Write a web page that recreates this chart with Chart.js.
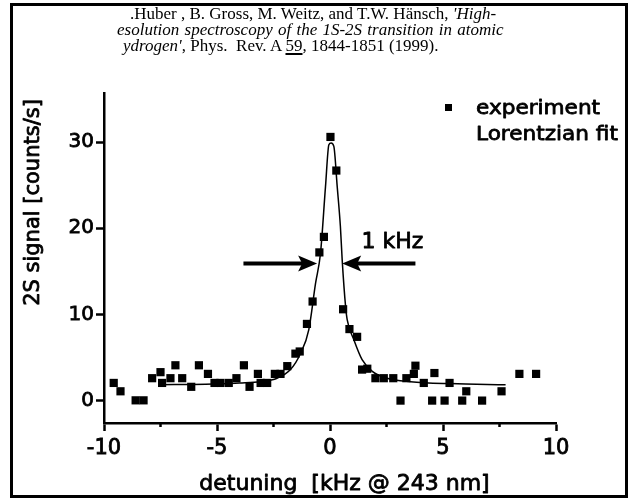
<!DOCTYPE html>
<html lang="en">
<head>
    <meta charset="UTF-8">
    <title>1S-2S spectrum</title>
    <script src="https://cdn.jsdelivr.net/npm/chart.js"></script>
    <style>
        body { margin: 0; background: #fff; }
        #wrap { position: relative; width: 632px; height: 498px; background: #fff; overflow: hidden; }
        #spectrum { position: absolute; left: 0; top: 0; }
        .frame { position: absolute; left: 10px; top: 3px; width: 618px; height: 495px; box-sizing: border-box; border: 3px solid #000; pointer-events: none; }
        .ref { position: absolute; font: 17px "Liberation Serif", "Times New Roman", serif; line-height: 16px; white-space: pre; color: #000; }
        .ref u { text-decoration-thickness: 2px; text-underline-offset: 2px; }
    </style>
</head>
<body>
<div id="wrap">
    <canvas id="spectrum" width="632" height="498"></canvas>
    <div class="frame"></div>
    <div class="ref" style="left:130px; top:6px">.Huber , B. Gross, M. Weitz, and T.W. Hänsch, <i>'High-</i></div>
    <div class="ref" style="left:117px; top:22px; word-spacing:1px"><i>esolution spectroscopy of the 1S-2S transition in atomic</i></div>
    <div class="ref" style="left:123px; top:38px"><i>ydrogen'</i>, Phys.  Rev. A <u>59</u>, 1844-1851 (1999).</div>
</div>

<script>
    // measured 2S signal vs. detuning
    const expX = [-9.57, -9.27, -8.6, -8.25, -7.87, -7.5, -7.43, -7.06, -6.84, -6.54, -6.14, -5.8, -5.4, -5.11,
        -4.85, -4.48, -4.14, -3.81, -3.56, -3.19, -3.07, -2.78, -2.44, -2.19, -1.89, -1.53, -1.34, -1.02, -0.77,
        -0.47, -0.27, 0.02, 0.28, 0.58, 0.86, 1.2, 1.42, 1.65, 2.01, 2.38, 2.8, 3.12, 3.38, 3.71, 3.78, 4.15,
        4.52, 4.62, 5.07, 5.29, 5.85, 6.03, 6.73, 7.59, 8.38, 9.12];
    const expY = [2.05, 1.08, 0.03, 0.03, 2.6, 3.3, 2.05, 2.6, 4.1, 2.6, 1.6, 4.1, 3.1, 2.05,
        2.05, 2.05, 2.6, 4.1, 1.6, 3.1, 2.05, 2.05, 3.1, 3.1, 4.0, 5.45, 5.7, 8.9, 11.5,
        17.2, 19.0, 30.6, 26.7, 10.6, 8.3, 7.4, 3.6, 3.7, 2.6, 2.6, 2.6, 0.0, 2.6, 3.1, 4.05, 2.05,
        0.0, 3.2, 0.0, 2.05, 0.0, 1.08, 0.0, 1.08, 3.1, 3.1];

    // Lorentzian fit curve
    const fitX = [-7.6, -5.5, -4.0, -3.07, -2.34, -1.75, -1.3, -0.94, -0.64, -0.42, -0.2, -0.05, 0.05, 0.17,
        0.32, 0.46, 0.54, 0.69, 0.76, 1.05, 1.42, 1.87, 2.53, 3.56, 5.33, 7.77];
    const fitY = [1.85, 1.9, 2.05, 2.2, 2.6, 3.6, 5.5, 8.2, 13.6, 17.1, 24.8, 29.7, 29.9, 29.5,
        24.8, 20.2, 16.3, 10.9, 9.4, 7.1, 4.75, 3.4, 2.6, 2.2, 1.97, 1.85];

    const xTicks = [-10, -5, 0, 5, 10];
    const xMinorTicks = [-7.5, -2.5, 2.5, 7.5];
    const yTicks = [0, 10, 20, 30];

    // linewidth marker: arrows pointing at the half-maximum
    const arrowTailX = [-3.83, 3.78];
    const arrowTipX = [-0.57, 0.54];
    const arrowY = 15.9;
    const widthLabel = '1 kHz';
    const widthLabelPos = [1.39, 17.7];

    const seriesNames = ['experiment', 'Lorentzian fit'];
    const xTitle = 'detuning  [kHz @ 243 nm]';
    const yTitle = '2S signal [counts/s]';

    const FONT = '"DejaVu Sans", Arial, sans-serif';

    // fill + thin stroke so the lettering reads as heavy as the axes
    function heavyText(ctx, text, x, y) {
        ctx.fillText(text, x, y);
        ctx.strokeText(text, x, y);
    }

    const extras = {
        id: 'extras',
        afterDraw(chart) {
            const { ctx, chartArea: a, scales: { x, y } } = chart;
            ctx.save();
            ctx.fillStyle = '#000';
            ctx.strokeStyle = '#000';

            // short minor ticks on the x axis
            ctx.lineWidth = 2.5;
            xMinorTicks.forEach(v => {
                const px = x.getPixelForValue(v);
                ctx.beginPath();
                ctx.moveTo(px, a.bottom);
                ctx.lineTo(px, a.bottom + 4);
                ctx.stroke();
            });

            // arrows
            const ay = y.getPixelForValue(arrowY);
            arrowTailX.forEach((t, i) => {
                const x0 = x.getPixelForValue(t);
                const x1 = x.getPixelForValue(arrowTipX[i]);
                const dir = Math.sign(x1 - x0);
                ctx.lineWidth = 4;
                ctx.beginPath();
                ctx.moveTo(x0, ay);
                ctx.lineTo(x1 - dir * 14, ay);
                ctx.stroke();
                ctx.beginPath();
                ctx.moveTo(x1, ay);
                ctx.lineTo(x1 - dir * 19, ay - 8);
                ctx.lineTo(x1 - dir * 15, ay);
                ctx.lineTo(x1 - dir * 19, ay + 8);
                ctx.closePath();
                ctx.fill();
            });

            ctx.lineWidth = 0.8;
            ctx.lineJoin = 'round';
            ctx.font = '22px ' + FONT;
            ctx.textAlign = 'left';
            ctx.textBaseline = 'alphabetic';
            heavyText(ctx, widthLabel, x.getPixelForValue(widthLabelPos[0]), y.getPixelForValue(widthLabelPos[1]));

            // legend
            ctx.fillRect(445, 104, 7, 7);
            ctx.save();
            ctx.translate(476, 0);
            ctx.scale(1.08, 1);
            ctx.font = '20px ' + FONT;
            heavyText(ctx, seriesNames[0], 0, 113.5);
            heavyText(ctx, seriesNames[1], 0, 140);
            ctx.restore();

            // axis titles
            ctx.font = '22px ' + FONT;
            ctx.textAlign = 'center';
            heavyText(ctx, xTitle, 344.5, 490);
            ctx.save();
            ctx.translate(39, 202.5);
            ctx.rotate(-Math.PI / 2);
            ctx.font = '21px ' + FONT;
            heavyText(ctx, yTitle, 0, 0);
            ctx.restore();

            ctx.restore();
        }
    };

    const ctx = document.getElementById('spectrum').getContext('2d');
    new Chart(ctx, {
        type: 'scatter',
        data: {
            datasets: [{
                label: seriesNames[0],
                data: expX.map((v, i) => ({ x: v, y: expY[i] })),
                pointStyle: 'rect',
                pointRadius: 5.8,
                backgroundColor: '#000',
                borderWidth: 0,
                order: 1
            }, {
                label: seriesNames[1],
                data: fitX.map((v, i) => ({ x: v, y: fitY[i] })),
                showLine: true,
                pointRadius: 0,
                borderColor: '#000',
                borderWidth: 1.5,
                cubicInterpolationMode: 'monotone',
                order: 2
            }]
        },
        options: {
            responsive: false,
            animation: false,
            devicePixelRatio: 1,
            layout: { padding: { top: 93, right: 76, left: 0, bottom: 0 } },
            plugins: { legend: { display: false }, tooltip: { enabled: false } },
            scales: {
                x: {
                    type: 'linear',
                    min: -10,
                    max: 10,
                    afterFit: s => { s.height = 75; },
                    afterBuildTicks: s => { s.ticks = xTicks.map(v => ({ value: v })); },
                    grid: { drawOnChartArea: false, tickLength: 8, tickWidth: 2.5, tickColor: '#000' },
                    border: { color: '#000', width: 2.5 },
                    ticks: {
                        color: '#000',
                        font: { family: FONT, size: 21 },
                        textStrokeColor: '#000',
                        textStrokeWidth: 0.8,
                        padding: 5,
                        maxRotation: 0,
                        autoSkip: false,
                        callback: v => String(v)
                    }
                },
                y: {
                    type: 'linear',
                    min: -2.6,
                    max: 35.7,
                    afterFit: s => { s.width = 104; },
                    afterBuildTicks: s => { s.ticks = yTicks.map(v => ({ value: v })); },
                    grid: { drawOnChartArea: false, tickLength: 8, tickWidth: 2.5, tickColor: '#000' },
                    border: { color: '#000', width: 2.5 },
                    ticks: {
                        color: '#000',
                        font: { family: FONT, size: 20 },
                        textStrokeColor: '#000',
                        textStrokeWidth: 0.8,
                        padding: 2,
                        callback: v => String(v)
                    }
                }
            }
        },
        plugins: [extras]
    });
</script>
</body>
</html>
